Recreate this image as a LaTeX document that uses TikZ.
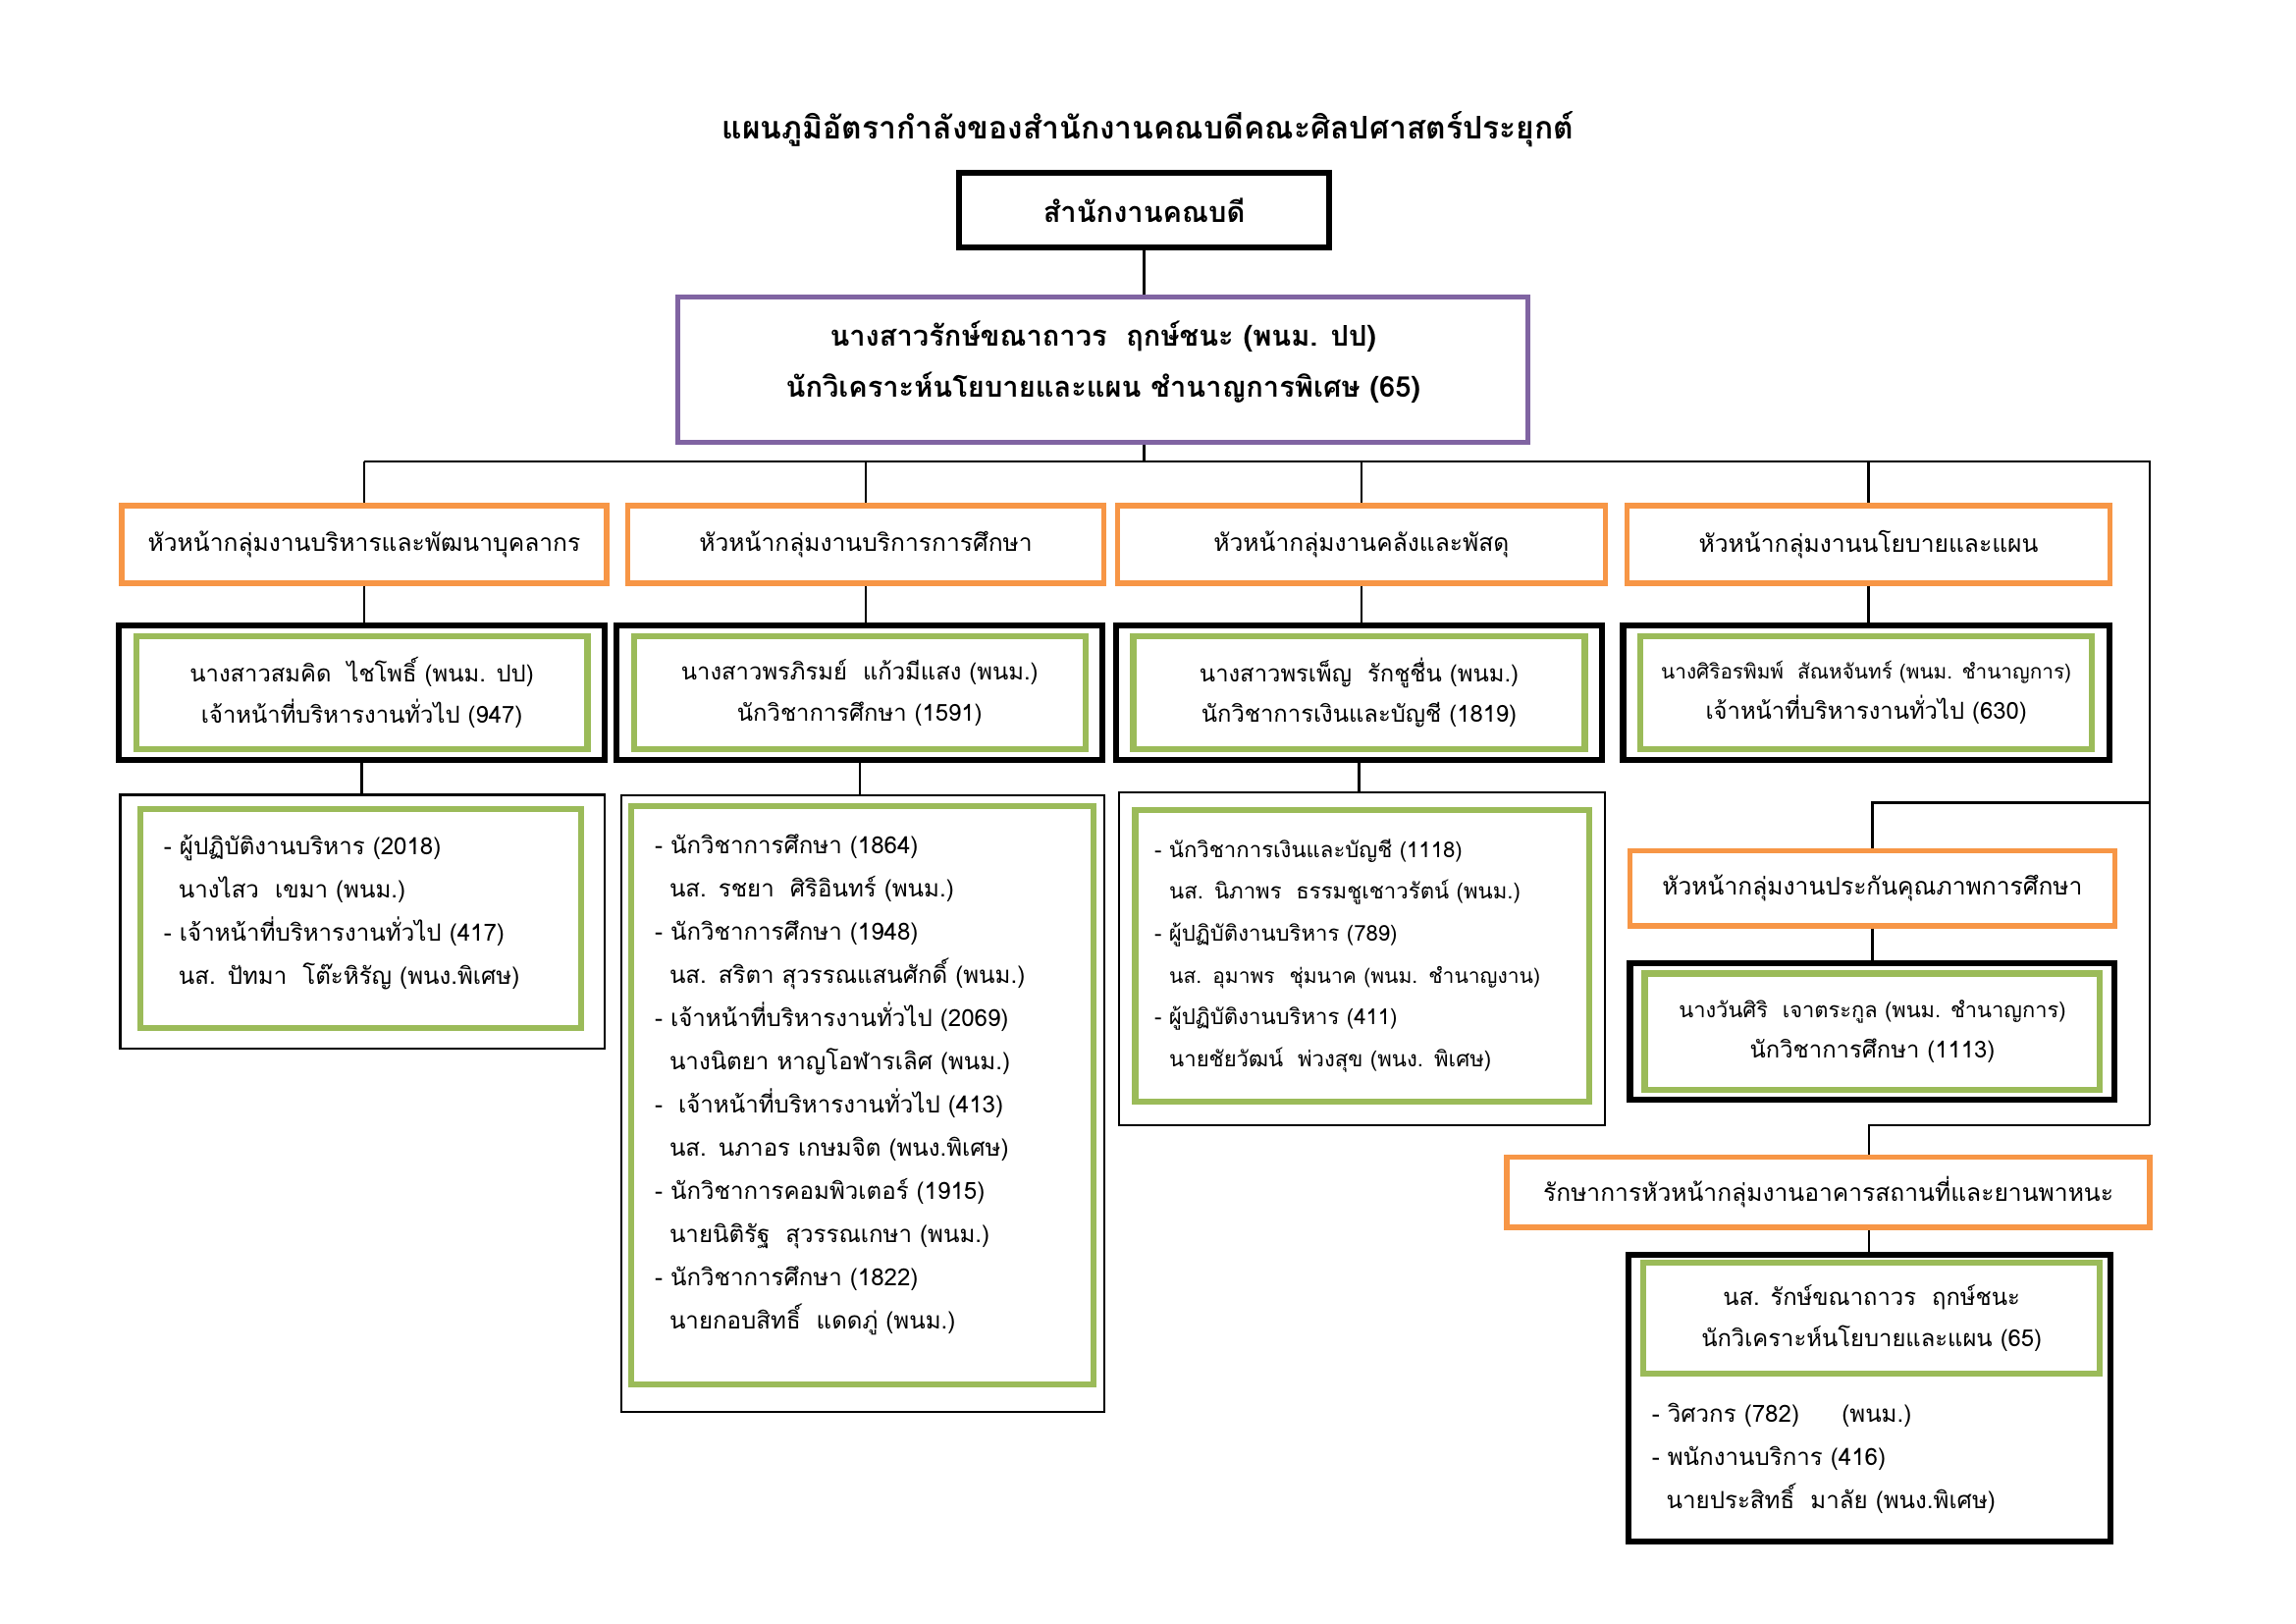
\documentclass[tikz,border=0pt]{standalone}
\usepackage{fontspec}
\setmainfont[Script=Thai]{Loma}
\usetikzlibrary{positioning}
\definecolor{orangeline}{RGB}{247,150,70}
\definecolor{greenline}{RGB}{155,187,89}
\definecolor{purpleline}{RGB}{128,100,162}
\newcommand{\ind}{\hspace*{1.9mm}}
\tikzset{
  link/.style={line width=0.8pt},
  headbox/.style={draw=orangeline, line width=2pt, minimum height=10mm, inner sep=0pt, font=\fontsize{8.9}{12}\selectfont},
  outerbox/.style={draw=black, line width=2.2pt, minimum width=62.9mm, minimum height=17.4mm, inner sep=0pt},
  staffbox/.style={draw=greenline, line width=2.2pt, minimum width=58.4mm, minimum height=14.6mm, inner sep=0pt, align=center, font=\fontsize{8.6}{15}\selectfont},
  listframe/.style={draw=black, line width=0.8pt, inner sep=0pt},
  listbox/.style={draw=greenline, line width=2.2pt, inner ysep=0pt, inner xsep=3mm, align=left, font=\fontsize{8.7}{15.9}\selectfont}
}

\begin{document}
\begin{tikzpicture}[x=1mm,y=1mm]
 \useasboundingbox (0,0) rectangle (297,210);
 % title and dean's office
 \node[font=\bfseries\fontsize{11.5}{15}\selectfont] (title) at (148.5,193.3) {แผนภูมิอัตรากำลังของสำนักงานคณบดีคณะศิลปศาสตร์ประยุกต์};
 \node[draw, line width=2.2pt, minimum width=47.9mm, minimum height=9.7mm, font=\bfseries\fontsize{10.5}{12}\selectfont] (dean) at (148,182.8) {สำนักงานคณบดี};
 \node[draw=purpleline, line width=1.8pt, minimum width=110mm, minimum height=18.8mm, align=center, font=\bfseries\fontsize{10.5}{18.8}\selectfont] (head) at (142.7,162.2) {นางสาวรักษ์ขณาถาวร~~ฤกษ์ชนะ (พนม. ปป)\\นักวิเคราะห์นโยบายและแผน ชำนาญการพิเศษ (65)\rule[-2.6mm]{0pt}{1pt}};

 % bus lines
 \coordinate (busL) at (47.1,150.3);
 \coordinate (busR) at (278.05,150.3);
 \coordinate (joinQ) at (278.05,106.2);
 \coordinate (joinB) at (278.05,64.5);

 % group heads
 \node[headbox, minimum width=62.7mm] (h1) at (47.1,139.6) {หัวหน้ากลุ่มงานบริหารและพัฒนาบุคลากร};
 \node[headbox, minimum width=61.6mm] (h2) at (112,139.6) {หัวหน้ากลุ่มงานบริการการศึกษา};
 \node[headbox, minimum width=63.1mm] (h3) at (176.1,139.6) {หัวหน้ากลุ่มงานคลังและพัสดุ};
 \node[headbox, minimum width=62.5mm] (h4) at (241.7,139.6) {หัวหน้ากลุ่มงานนโยบายและแผน};

 % staff boxes
 \node[outerbox] (o1) at (46.8,120.4) {};
 \node[staffbox] (s1) at (o1) {นางสาวสมคิด~~ไชโพธิ์ (พนม. ปป)\\เจ้าหน้าที่บริหารงานทั่วไป (947)};
 \node[outerbox] (o2) at (111.2,120.4) {};
 \node[staffbox] (s2) at (o2) {นางสาวพรภิรมย์~~แก้วมีแสง (พนม.)\\นักวิชาการศึกษา (1591)};
 \node[outerbox] (o3) at (175.8,120.4) {};
 \node[staffbox] (s3) at (o3) {นางสาวพรเพ็ญ~~รักชูชื่น (พนม.)\\นักวิชาการเงินและบัญชี (1819)};
 \node[outerbox] (o4) at (241.4,120.4) {};
 \node[staffbox] (s4) at (o4) {{\fontsize{7.5}{15}\selectfont นางศิริอรพิมพ์~~สัณหจันทร์ (พนม. ชำนาญการ)}\\เจ้าหน้าที่บริหารงานทั่วไป (630)};

 % staff lists
 \node[listframe, minimum width=62.7mm, minimum height=32.8mm] (f1) at (46.9,90.8) {};
 \node[listbox, text width=51mm, minimum height=28.4mm] (l1) at (46.7,91.2) {- ผู้ปฏิบัติงานบริหาร (2018)\\
 \ind นางไสว~~เขมา (พนม.)\\
 - เจ้าหน้าที่บริหารงานทั่วไป (417)\\
 \ind นส. ปัทมา~~โต๊ะหิรัญ (พนง.พิเศษ)\rule[-2.2mm]{0pt}{1pt}};
 \node[listframe, minimum width=62.5mm, minimum height=79.7mm] (f2) at (111.6,67.3) {};
 \node[listbox, text width=53.8mm, minimum height=74.8mm] (l2) at (111.6,68.4) {- นักวิชาการศึกษา (1864)\\
 \ind นส. รชยา~~ศิริอินทร์ (พนม.)\\
 - นักวิชาการศึกษา (1948)\\
 \ind นส. สริตา สุวรรณแสนศักดิ์ (พนม.)\\
 - เจ้าหน้าที่บริหารงานทั่วไป (2069)\\
 \ind นางนิตยา หาญโอฬารเลิศ (พนม.)\\
 -~~เจ้าหน้าที่บริหารงานทั่วไป (413)\\
 \ind นส. นภาอร เกษมจิต (พนง.พิเศษ)\\
 - นักวิชาการคอมพิวเตอร์ (1915)\\
 \ind นายนิติรัฐ~~สุวรรณเกษา (พนม.)\\
 - นักวิชาการศึกษา (1822)\\
 \ind นายกอบสิทธิ์~~แดดภู่ (พนม.)\rule[-3.4mm]{0pt}{1pt}};
 \node[listframe, minimum width=62.9mm, minimum height=43mm] (f3) at (176.2,86) {};
 \node[listbox, text width=53.7mm, inner xsep=2.5mm, minimum height=37.7mm, font=\fontsize{8}{15.4}\selectfont] (l3) at (176.2,86.4) {- นักวิชาการเงินและบัญชี (1118)\\
 \ind นส. นิภาพร~~ธรรมชูเชาวรัตน์ (พนม.)\\
 - ผู้ปฏิบัติงานบริหาร (789)\\
 \ind {\fontsize{7.6}{15.4}\selectfont นส. อุมาพร~~ชุ่มนาค (พนม. ชำนาญงาน)}\\
 - ผู้ปฏิบัติงานบริหาร (411)\\
 \ind นายชัยวัฒน์~~พ่วงสุข (พนง. พิเศษ)};

 % quality assurance group
 \node[headbox, minimum width=62.7mm, minimum height=9.7mm] (q) at (242.2,95.1) {หัวหน้ากลุ่มงานประกันคุณภาพการศึกษา};
 \node[outerbox, minimum width=62.7mm, minimum height=17.6mm] (o5) at (242.2,76.6) {};
 \node[staffbox, minimum width=58.9mm, minimum height=15mm] (s5) at (o5) {{\fontsize{7.9}{15}\selectfont นางวันศิริ~~เจาตระกูล (พนม. ชำนาญการ)}\\นักวิชาการศึกษา (1113)};

 % building and vehicles group
 \node[headbox, minimum width=83.2mm, minimum height=9.1mm] (b) at (236.5,55.8) {รักษาการหัวหน้ากลุ่มงานอาคารสถานที่และยานพาหนะ};
 \node[outerbox, minimum width=62.3mm, minimum height=37mm] (o6) at (241.8,29.2) {};
 \node[staffbox, minimum width=59.1mm, minimum height=14.4mm] (s6) at (242.1,39.5) {นส. รักษ์ขณาถาวร~~ฤกษ์ชนะ\\นักวิเคราะห์นโยบายและแผน (65)};
 \node[align=left, anchor=west, inner sep=0pt, font=\fontsize{8.7}{15.9}\selectfont] (l6) at (213.6,21.4) {- วิศวกร (782)\hspace{5.5mm}(พนม.)\\
 - พนักงานบริการ (416)\\
 \ind นายประสิทธิ์~~มาลัย (พนง.พิเศษ)};

 % connectors
 \draw[link] (dean.south) -- (dean.south |- head.north);
 \draw[link] (dean.south |- head.south) -- (dean.south |- busL);
 \draw[link] (busL) -- (busR) -- (joinB);
 \foreach \g in {h1,h2,h3,h4}
   \draw[link] (\g.north |- busL) -- (\g.north);
 \foreach \g/\o in {h1/o1,h2/o2,h3/o3,h4/o4}
   \draw[link] (\g.south) -- (\g.south |- \o.north);
 \foreach \o/\f in {o1/f1,o2/f2,o3/f3}
   \draw[link] (\o.south) -- (\o.south |- \f.north);
 \draw[link] (joinQ) -| (q.north);
 \draw[link] (q.south) -- (o5.north);
 \draw[link] (joinB) -| (b.north -| o6.north);
 \draw[link] (b.south -| o6.north) -- (o6.north);
\end{tikzpicture}
\end{document}
